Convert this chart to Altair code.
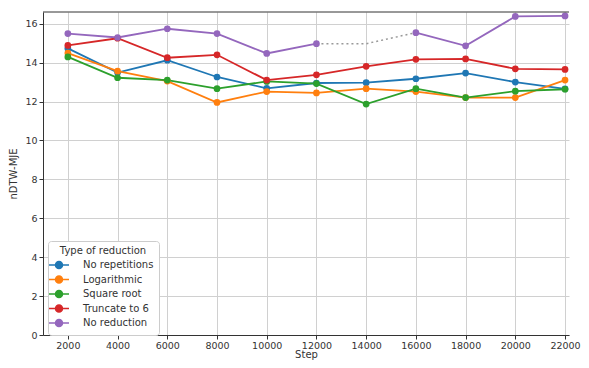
import altair as alt
import pandas as pd

steps = [2000, 4000, 6000, 8000, 10000, 12000, 14000, 16000, 18000, 20000, 22000]
series_names = ["No repetitions", "Logarithmic", "Square root", "Truncate to 6", "No reduction"]
colors = ["#1f77b4", "#ff7f0e", "#2ca02c", "#d62728", "#9467bd"]

no_repetitions = [14.73, 13.49, 14.12, 13.26, 12.68, 12.95, 12.97, 13.17, 13.46, 13.00, 12.65]
logarithmic = [14.49, 13.56, 13.05, 11.95, 12.51, 12.44, 12.66, 12.51, 12.20, 12.20, 13.10]
square_root = [14.29, 13.22, 13.10, 12.66, 13.03, 12.92, 11.87, 12.66, 12.20, 12.53, 12.63]
truncate_to_6 = [14.88, 15.25, 14.25, 14.40, 13.10, 13.37, 13.81, 14.17, 14.19, 13.68, 13.65]
no_reduction = [15.49, 15.29, 15.74, 15.49, 14.47, 14.97, None, 15.54, 14.86, 16.37, 16.40]

gap_steps = [12000, 14000, 16000]
gap_values = [14.97, 14.97, 15.54]

rows = []
for name, vals in zip(series_names, [no_repetitions, logarithmic, square_root, truncate_to_6, no_reduction]):
    for s, v in zip(steps, vals):
        rows.append({"Step": s, "value": v, "series": name})
df = pd.DataFrame(rows)
gap_df = pd.DataFrame({"Step": gap_steps, "value": gap_values})

W, H = 526, 323
x_scale = alt.Scale(domain=[1000, 22160], nice=False, zero=False)
y_scale = alt.Scale(domain=[0, 16.6], nice=False)

x_enc = alt.X("Step:Q", scale=x_scale,
              axis=alt.Axis(title="Step", values=steps, format="d", titlePadding=0, labelPadding=1))
y_enc = alt.Y("value:Q", scale=y_scale,
              axis=alt.Axis(title="nDTW-MJE", values=list(range(0, 17, 2)), titlePadding=6))

legend_symbol = "M-2,0 L2,0 M-0.7,0 A0.7,0.7 0 1,1 0.7,0 A0.7,0.7 0 1,1 -0.7,0 Z"

color_enc = alt.Color("series:N",
    scale=alt.Scale(domain=series_names, range=colors),
    legend=alt.Legend(title="Type of reduction", orient="none", legendX=5, legendY=H - 94,
                      symbolType=legend_symbol, symbolSize=100, symbolStrokeWidth=1.5,
                      titleAnchor="middle", titleFontWeight="normal",
                      titleFontSize=10, labelFontSize=10, padding=5, fillColor="white",
                      strokeColor="#cccccc", cornerRadius=3, rowPadding=0.5,
                      labelOffset=18, titlePadding=3))

gap = alt.Chart(gap_df).mark_line(color="#999999", strokeDash=[2, 3], strokeWidth=1.5).encode(
    x=x_enc, y=y_enc)

lines = alt.Chart(df).mark_line(strokeWidth=1.8).encode(
    x=x_enc, y=y_enc, color=color_enc, detail="series:N")

points = alt.Chart(df).mark_circle(size=45, opacity=1).encode(
    x=x_enc, y=y_enc,
    color=alt.Color("series:N", scale=alt.Scale(domain=series_names, range=colors), legend=None))

top_frame = alt.Chart(pd.DataFrame({"a": [0]})).mark_rule(color="#333333", strokeWidth=1).encode(
    x=alt.value(0), x2=alt.value(W), y=alt.value(0))

chart = alt.layer(gap, lines, points, top_frame).properties(
    width=W, height=H,
    autosize=alt.AutoSizeParams(type="none"),
    padding={"left": 35, "top": 4, "right": 12, "bottom": 25},
).configure_view(stroke=None).configure_axis(
    gridColor="#d0d0d0", gridWidth=1, domain=True, domainColor="#333333", tickColor="#333333",
    labelColor="#333333", titleColor="#333333", labelFontSize=9.5, titleFontSize=10,
    titleFontWeight="normal", tickSize=4, labelPadding=2, labelFont="DejaVu Sans",
    titleFont="DejaVu Sans",
).configure_legend(labelFont="DejaVu Sans", titleFont="DejaVu Sans",
                   labelColor="#333333", titleColor="#333333")

chart.save("out.html", embed_options={"renderer": "svg", "actions": False})
